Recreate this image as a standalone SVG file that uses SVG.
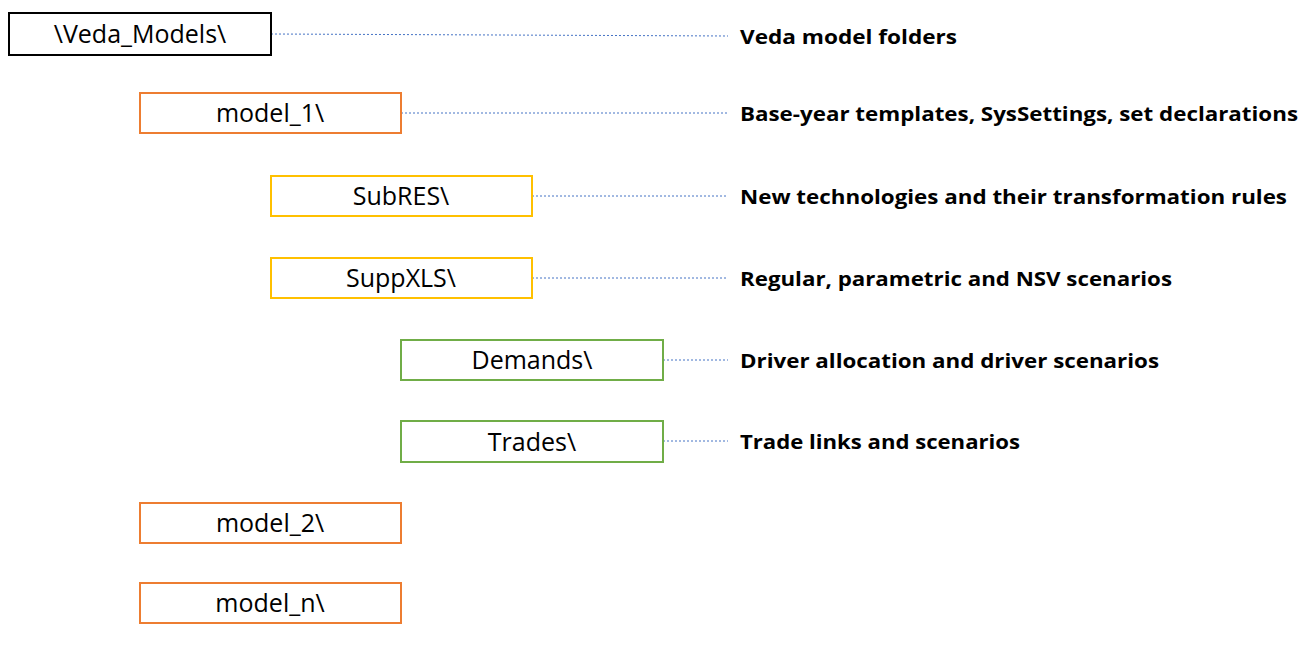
<svg xmlns="http://www.w3.org/2000/svg" width="1308" height="645" viewBox="0 0 1308 645">
<style>
.b{fill:#fff;stroke-width:2}
.k{stroke:#000}.o{stroke:#ED7D31}.y{stroke:#FFC000}.g{stroke:#70AD47}
.t{font-family:"Open Sans","Liberation Sans",sans-serif;font-size:25px;text-anchor:middle;fill:#000}
.l{font-family:"Open Sans","Liberation Sans",sans-serif;font-weight:bold;font-size:20px;fill:#000}
.c line{stroke:#4472C4;stroke-width:1;stroke-dasharray:2,2}
</style>
<rect width="1308" height="645" fill="#fff"/>
<g class="c" id="connectors">
<line x1="271" y1="34" x2="728" y2="36"/>
<line x1="401" y1="113" x2="728" y2="113"/>
<line x1="532" y1="196" x2="728" y2="196"/>
<line x1="532" y1="278" x2="728" y2="278"/>
<line x1="663" y1="360" x2="728" y2="360"/>
<line x1="663" y1="441" x2="728" y2="441"/>
</g>
<g id="veda"><rect class="b k" x="9" y="13" width="262" height="42"/><text class="t" x="140" y="43">\Veda_Models\</text></g>
<g id="model1"><rect class="b o" x="140" y="93" width="261" height="40"/><text class="t" x="270" y="122">model_1\</text></g>
<g id="subres"><rect class="b y" x="271" y="176" width="261" height="40"/><text class="t" x="401" y="205">SubRES\</text></g>
<g id="suppxls"><rect class="b y" x="271" y="258" width="261" height="40"/><text class="t" x="401" y="287">SuppXLS\</text></g>
<g id="demands"><rect class="b g" x="401" y="340" width="262" height="40"/><text class="t" x="532" y="369">Demands\</text></g>
<g id="trades"><rect class="b g" x="401" y="421" width="262" height="41"/><text class="t" x="532" y="451">Trades\</text></g>
<g id="model2"><rect class="b o" x="140" y="503" width="261" height="40"/><text class="t" x="270" y="532">model_2\</text></g>
<g id="modeln"><rect class="b o" x="140" y="583" width="261" height="40"/><text class="t" x="270" y="612">model_n\</text></g>
<g id="labels">
<text class="l" x="740" y="44" textLength="217" lengthAdjust="spacingAndGlyphs">Veda model folders</text>
<text class="l" x="740" y="121" textLength="558" lengthAdjust="spacingAndGlyphs">Base-year templates, SysSettings, set declarations</text>
<text class="l" x="740" y="204" textLength="547" lengthAdjust="spacingAndGlyphs">New technologies and their transformation rules</text>
<text class="l" x="740" y="286" textLength="432" lengthAdjust="spacingAndGlyphs">Regular, parametric and NSV scenarios</text>
<text class="l" x="740" y="368" textLength="419" lengthAdjust="spacingAndGlyphs">Driver allocation and driver scenarios</text>
<text class="l" x="740" y="449" textLength="280" lengthAdjust="spacingAndGlyphs">Trade links and scenarios</text>
</g>
</svg>
